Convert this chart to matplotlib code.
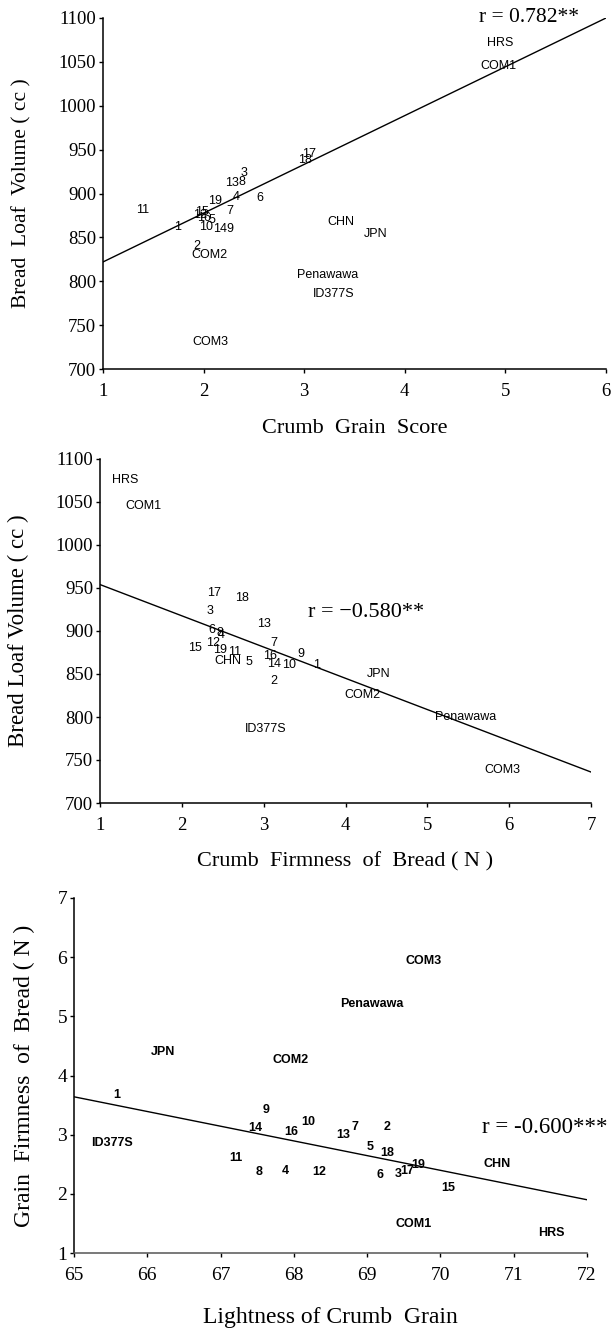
import matplotlib
matplotlib.use("Agg")
import matplotlib.pyplot as plt

# ---------------- Panel 1: Crumb grain score vs loaf volume ----------------
p1_labels = ["HRS", "COM1", "17", "18", "3", "13", "8", "4", "6", "19", "11",
             "15", "12", "16", "5", "10", "14", "9", "7", "1", "2", "COM2",
             "COM3", "CHN", "JPN", "Penawawa", "ID377S"]
p1_x = [4.95, 4.93, 3.05, 3.01, 2.40, 2.28, 2.38, 2.32, 2.56, 2.11, 1.39,
        1.98, 1.96, 2.00, 2.08, 2.02, 2.16, 2.26, 2.26, 1.74, 1.93, 2.06,
        2.07, 3.36, 3.71, 3.23, 3.29]
p1_y = [1072, 1045, 945, 938, 923, 912, 913, 896, 895, 892, 881,
        879, 876, 872, 870, 862, 860, 860, 880, 862, 840, 830,
        731, 867, 854, 807, 786]
p1_fit_x = [1, 6]
p1_fit_y = [822, 1100]
p1_r = "r = 0.782**"
p1_xticks = [1, 2, 3, 4, 5, 6]
p1_yticks = [700, 750, 800, 850, 900, 950, 1000, 1050, 1100]

# ---------------- Panel 2: Crumb firmness vs loaf volume ----------------
p2_labels = ["HRS", "COM1", "17", "18", "3", "13", "6", "8", "4", "12", "15",
             "19", "11", "CHN", "5", "7", "16", "14", "10", "9", "1", "2",
             "JPN", "COM2", "Penawawa", "ID377S", "COM3"]
p2_x = [1.31, 1.53, 2.39, 2.73, 2.35, 3.00, 2.37, 2.46, 2.48, 2.38, 2.16,
        2.47, 2.64, 2.56, 2.82, 3.13, 3.08, 3.13, 3.31, 3.46, 3.65, 3.12,
        4.40, 4.21, 5.47, 3.02, 5.92]
p2_y = [1075, 1045, 944, 938, 923, 908, 901, 898, 895, 886, 880,
        878, 876, 865, 864, 886, 871, 862, 861, 873, 860, 842,
        850, 826, 800, 786, 738]
p2_fit_x = [1, 7]
p2_fit_y = [954, 736]
p2_r = "r = \u22120.580**"
p2_xticks = [1, 2, 3, 4, 5, 6, 7]
p2_yticks = [700, 750, 800, 850, 900, 950, 1000, 1050, 1100]

# ---------------- Panel 3: Lightness vs crumb firmness ----------------
p3_labels = ["COM3", "Penawawa", "JPN", "COM2", "1", "9", "10", "14", "16",
             "13", "7", "2", "ID377S", "5", "18", "11", "CHN", "19", "17",
             "3", "8", "4", "12", "6", "15", "COM1", "HRS"]
p3_x = [69.77, 69.06, 66.22, 67.95, 65.59, 67.62, 68.20, 67.48, 67.96,
        68.68, 68.84, 69.27, 65.52, 69.04, 69.27, 67.21, 70.77, 69.69, 69.55,
        69.42, 67.53, 67.89, 68.35, 69.17, 70.10, 69.63, 71.51]
p3_y = [5.94, 5.21, 4.39, 4.26, 3.67, 3.42, 3.21, 3.12, 3.04,
        3.00, 3.13, 3.13, 2.86, 2.80, 2.69, 2.61, 2.51, 2.49, 2.38,
        2.34, 2.37, 2.39, 2.37, 2.31, 2.10, 1.49, 1.33]
p3_fit_x = [65, 72]
p3_fit_y = [3.64, 1.90]
p3_r = "r = -0.600***"
p3_xticks = [65, 66, 67, 68, 69, 70, 71, 72]
p3_yticks = [1, 2, 3, 4, 5, 6, 7]

SERIF = "Liberation Serif"
SANS = "Liberation Sans"

W, H = 612, 1331
fig = plt.figure(figsize=(W / 100, H / 100), dpi=100)


def make_axes(left, top, right, bottom):
    ax = fig.add_axes([left / W, 1 - bottom / H, (right - left) / W, (bottom - top) / H])
    ax._px = (left, top, right, bottom)
    return ax


def style(ax, xticks, yticks, xlabel, ylabel, tick_fs, xl_fs, yl_fs,
          xlabel_px, ylabel_px, weight="normal"):
    left, top, right, bottom = ax._px
    ax.set_xticks(xticks)
    ax.set_yticks(yticks)
    ax.set_xlim(xticks[0], xticks[-1])
    ax.set_ylim(yticks[0], yticks[-1])
    for s in ("top", "right"):
        ax.spines[s].set_visible(False)
    for s in ("left", "bottom"):
        ax.spines[s].set_linewidth(1.1)
    ax.tick_params(direction="out", length=3, width=1.0, labelsize=tick_fs)
    ax.tick_params(axis="x", pad=7)
    ax.tick_params(axis="y", pad=2)
    for lab in ax.get_xticklabels() + ax.get_yticklabels():
        lab.set_family(SERIF)
        lab.set_weight(weight)
    ax.set_xlabel(xlabel, family=SERIF, fontsize=xl_fs)
    ax.set_ylabel(ylabel, family=SERIF, fontsize=yl_fs)
    ax.xaxis.set_label_coords(0.5, (bottom - xlabel_px) / (bottom - top))
    ax.xaxis.label.set_va("center")
    ax.yaxis.set_label_coords((ylabel_px - left) / (right - left), 0.5)
    ax.yaxis.label.set_va("center")


def draw_points(ax, xs, ys, labels, fs=9, weight="normal"):
    for x, y, t in zip(xs, ys, labels):
        ax.text(x, y, t, family=SANS, fontsize=fs, fontweight=weight,
                ha="center", va="center", clip_on=False)


ax1 = make_axes(103, 18, 606, 369)
ax1.plot(p1_fit_x, p1_fit_y, color="black", lw=1.0)
draw_points(ax1, p1_x, p1_y, p1_labels)
style(ax1, p1_xticks, p1_yticks, "Crumb  Grain  Score", "Bread  Loaf  Volume ( cc )",
      13.5, 16, 15.5, 428, 22)
ax1.text(5.73, 1100, p1_r, family=SERIF, fontsize=15.5, ha="right", va="center",
         clip_on=False)

ax2 = make_axes(100, 459, 591, 803)
ax2.plot(p2_fit_x, p2_fit_y, color="black", lw=1.0)
draw_points(ax2, p2_x, p2_y, p2_labels)
style(ax2, p2_xticks, p2_yticks, "Crumb  Firmness  of  Bread ( N )", "Bread Loaf Volume ( cc )",
      13.5, 16, 16.5, 862, 18)
ax2.text(3.54, 921, p2_r, family=SERIF, fontsize=16, ha="left", va="center")

ax3 = make_axes(74, 898, 587, 1253)
ax3.plot(p3_fit_x, p3_fit_y, color="black", lw=1.0)
draw_points(ax3, p3_x, p3_y, p3_labels, fs=9, weight="bold")
style(ax3, p3_xticks, p3_yticks, "Lightness of Crumb  Grain", "Grain  Firmness  of  Bread ( N )",
      14, 17, 17, 1318, 24)
ax3.spines["bottom"].set_color("#555555")
ax3.text(70.57, 3.12, p3_r, family=SERIF, fontsize=16.5, ha="left", va="center",
         clip_on=False)

fig.savefig("out.png", dpi=100, facecolor="white")
